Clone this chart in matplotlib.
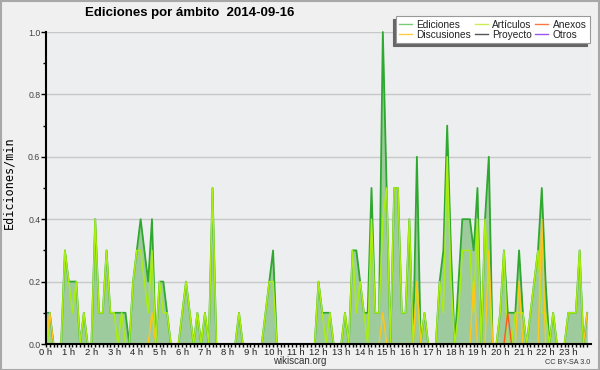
import matplotlib
matplotlib.use('Agg')
import matplotlib.pyplot as plt
from matplotlib import font_manager
from matplotlib.lines import Line2D
from matplotlib.patches import Rectangle
import numpy as np

names = {f.name for f in font_manager.fontManager.ttflist}
FAM = 'Liberation Sans' if 'Liberation Sans' in names else 'DejaVu Sans'
plt.rcParams['font.family'] = [FAM, 'DejaVu Sans']

title = "Ediciones por ámbito  2014-09-16"
ylabel = "Ediciones/min"
hour_labels = [f"{h} h" for h in range(24)]
series_names = ["Ediciones", "Discusiones", "Artículos", "Proyecto", "Anexos", "Otros"]

# Ediciones/min per 10-minute slot (144 slots)
ediciones = [
    0.1, 0.1, 0, 0, 0, 0.3,
    0.2, 0.2, 0.2, 0, 0.1, 0,
    0, 0.4, 0.1, 0.1, 0.3, 0.1,
    0.1, 0.1, 0.1, 0.1, 0, 0.2,
    0.3, 0.4, 0.3, 0.2, 0.4, 0,
    0.2, 0.2, 0.1, 0, 0, 0,
    0.1, 0.2, 0.1, 0, 0.1, 0,
    0.1, 0, 0.5, 0, 0, 0,
    0, 0, 0, 0.1, 0, 0,
    0, 0, 0, 0, 0.1, 0.2,
    0.3, 0, 0, 0, 0, 0,
    0, 0, 0, 0, 0, 0,
    0.2, 0.1, 0.1, 0.1, 0, 0,
    0, 0.1, 0, 0.3, 0.3, 0.2,
    0.1, 0.1, 0.5, 0.1, 0.1, 1.0,
    0.5, 0, 0.5, 0.5, 0.1, 0.1,
    0.4, 0, 0.6, 0, 0.1, 0,
    0, 0, 0.2, 0.3, 0.7, 0.3,
    0, 0.2, 0.4, 0.4, 0.4, 0.3,
    0.5, 0, 0.4, 0.6, 0, 0,
    0.1, 0.3, 0.1, 0.1, 0.1, 0.3,
    0.1, 0, 0.1, 0.2, 0.3, 0.5,
    0.2, 0, 0.1, 0, 0, 0,
    0.1, 0.1, 0.1, 0.3, 0, 0.1,
]
articulos = [
    0.1, 0, 0, 0, 0, 0.3,
    0.2, 0.1, 0.2, 0, 0.1, 0,
    0, 0.4, 0.1, 0.1, 0.3, 0.1,
    0.1, 0, 0.1, 0, 0, 0.2,
    0.3, 0.3, 0.2, 0.1, 0.3, 0,
    0.2, 0.1, 0.1, 0, 0, 0,
    0.1, 0.2, 0.1, 0, 0.1, 0,
    0.1, 0, 0.5, 0, 0, 0,
    0, 0, 0, 0.1, 0, 0,
    0, 0, 0, 0, 0.1, 0.2,
    0.2, 0, 0, 0, 0, 0,
    0, 0, 0, 0, 0, 0,
    0.2, 0.1, 0, 0.1, 0, 0,
    0, 0.1, 0, 0.3, 0.1, 0.2,
    0.1, 0, 0.4, 0.1, 0.1, 0.4,
    0.5, 0, 0.5, 0.5, 0.1, 0.1,
    0.4, 0, 0.2, 0, 0.1, 0,
    0, 0, 0.2, 0.1, 0.6, 0.2,
    0, 0.1, 0.3, 0.3, 0.3, 0.1,
    0.4, 0, 0.4, 0.2, 0, 0,
    0.1, 0.3, 0, 0, 0.1, 0.1,
    0.1, 0, 0.1, 0.2, 0.3, 0.1,
    0.1, 0, 0.1, 0, 0, 0,
    0.1, 0.1, 0.1, 0.3, 0, 0,
]
discusiones = [0.0] * 144
for k, v in {1: 0.1, 28: 0.1, 89: 0.1, 98: 0.2, 113: 0.2, 117: 0.3,
             125: 0.2, 131: 0.4, 143: 0.1}.items():
    discusiones[k] = v
anexos = [0.0] * 144
anexos[122] = 0.1
proyecto = [0.0] * 144
otros = [0.0] * 144

hours = np.arange(144) * 10 / 60.0

W, H = 600, 370
fig = plt.figure(figsize=(6, 3.7), dpi=100)
fig.patch.set_facecolor('#f0f0f0')
fig.patches.append(Rectangle((0.5 / W, 0.5 / H), 1 - 1.5 / W, 1 - 1.5 / H,
                             transform=fig.transFigure, fill=False,
                             edgecolor='#a8a8a8', lw=1.5))

ax = fig.add_axes([46 / W, 26 / H, 545 / W, 312 / H])
ax.set_facecolor('#edeef0')

ax.fill_between(hours, ediciones, 0, color='#9dcb9d', lw=0, zorder=1)
ax.plot(hours, otros, color='#9944ee', lw=1, zorder=2)
ax.plot(hours, proyecto, color='#555555', lw=1, zorder=2)
ax.plot(hours, ediciones, color='#2ea82e', lw=1.3, zorder=3, clip_on=False)
ax.plot(hours, articulos, color='#aaee11', lw=1.1, zorder=4, clip_on=False)
ax.plot(hours, discusiones, color='#ffc61a', lw=1.0, zorder=5)
ax.plot(hours, anexos, color='#ff5a1a', lw=1.0, zorder=6)

ax.set_xlim(0, 24)
ax.set_ylim(0, 1.0)
ax.set_xticks(range(24))
ax.set_xticklabels(hour_labels, fontsize=6.8, color='#222222')
ax.set_xticks(np.arange(0, 24, 1 / 6), minor=True)
ax.set_yticks(np.arange(0, 1.01, 0.2))
ax.set_yticklabels([f"{v:.1f}" for v in np.arange(0, 1.01, 0.2)], fontsize=6.3, color='#444444')
ax.set_yticks(np.arange(0, 1.01, 0.1), minor=True)
ax.tick_params(axis='x', which='major', length=2.5, width=1, pad=0.5)
ax.tick_params(axis='x', which='minor', length=2.5, width=1)
ax.tick_params(axis='y', which='major', length=3.6, width=1, pad=0.5)
ax.tick_params(axis='y', which='minor', length=2.5, width=1)
ax.yaxis.grid(True, color='#c8c8c8', lw=1)
ax.set_axisbelow(True)
for s in ('top', 'right'):
    ax.spines[s].set_visible(False)
for s in ('left', 'bottom'):
    ax.spines[s].set_linewidth(1.5)
    ax.spines[s].set_zorder(10)

fig.text(9 / W, 1 - 183 / H, ylabel, rotation=90, ha='center', va='center',
         fontsize=8.5, family=['DejaVu Sans Mono'])
fig.text(85 / W, 1 - 13 / H, title, ha='left', va='center', fontsize=9.5, fontweight='bold')
fig.text(300 / W, 1 - 361 / H, "wikiscan.org", ha='center', va='center', fontsize=7, color='#333333')
fig.text(590 / W, 1 - 362.5 / H, "CC BY-SA 3.0", ha='right', va='center', fontsize=5.2, color='#333333')

leg_colors = ['#77cc77', '#ffcc44', '#ccee55', '#555555', '#ff7744', '#9955ee']
handles = [Line2D([0], [0], color=c, lw=1) for c in leg_colors]
leg = fig.legend(handles, series_names, ncol=3, loc='upper right',
                 bbox_to_anchor=(595 / W, 1 - 11 / H), fontsize=7.3,
                 frameon=True, fancybox=False, handlelength=1.3, handletextpad=0.4,
                 columnspacing=0.35, labelspacing=0.0, borderpad=0.35,
                 shadow={'color': '#666666', 'alpha': 1, 'ox': -2.2, 'oy': -2.2})
for t in leg.get_texts():
    t.set_color('#222222')
leg.get_frame().set_edgecolor('#999999')
leg.get_frame().set_linewidth(0.8)
leg.get_frame().set_facecolor('white')

fig.savefig('out.png', dpi=100, facecolor=fig.get_facecolor())
